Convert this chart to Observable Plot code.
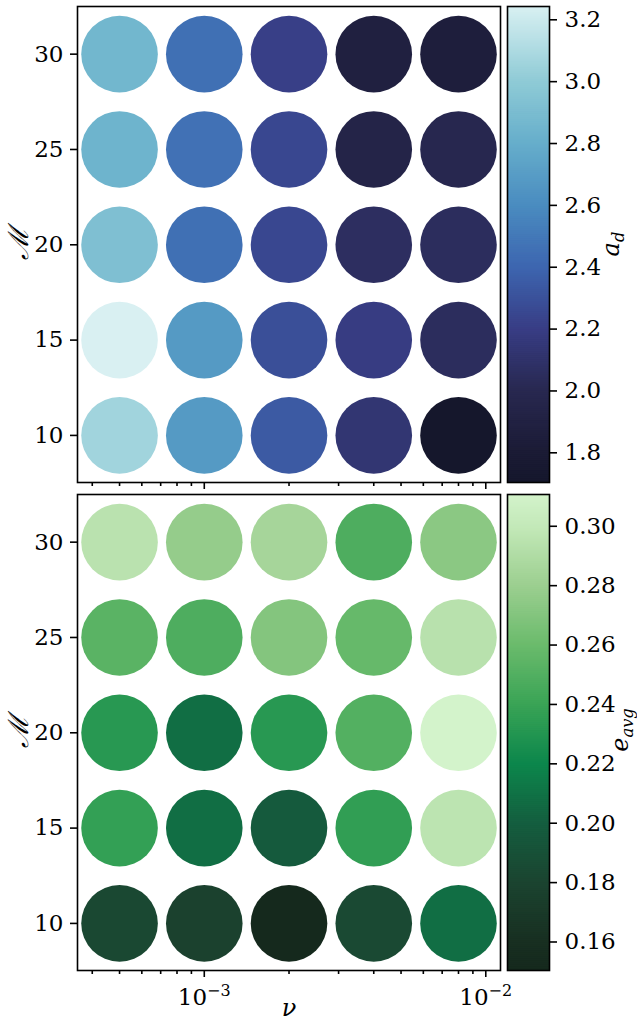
<!DOCTYPE html>
<html><head><meta charset="utf-8">
<script src="https://cdn.jsdelivr.net/npm/d3@7"></script>
<script src="https://cdn.jsdelivr.net/npm/@observablehq/plot@0.6"></script>
<style>
body{margin:0;background:#fff;}
#wrap{position:relative;width:637px;height:1021px;overflow:hidden;background:#fff;font-family:"DejaVu Serif",serif;color:#000;}
#wrap svg{position:absolute;overflow:visible;}
#wrap svg text{font-family:"DejaVu Serif",serif !important;}
.lab{position:absolute;white-space:nowrap;line-height:1;font-style:italic;font-size:24px;font-family:"DejaVu Serif",serif;}
.lab sub{font-size:0.68em;vertical-align:-0.28em;line-height:0;}
</style></head><body><div id="wrap"></div>
<script>
// ---- data ----
const nuValues = [5e-4, 1e-3, 2e-3, 4e-3, 8e-3];
const machValues = [10, 15, 20, 25, 30];

// a_d per Mach row (columns follow nuValues)
const aD_M10 = [3.06, 2.68, 2.34, 2.13, 1.704];
const aD_M15 = [3.243, 2.68, 2.29, 2.19, 2.05];
const aD_M20 = [2.92, 2.45, 2.25, 2.06, 2.05];
const aD_M25 = [2.84, 2.46, 2.25, 1.94, 1.99];
const aD_M30 = [2.86, 2.45, 2.21, 1.88, 1.85];

// e_avg per Mach row
const eAvg_M10 = [0.183, 0.177, 0.1504, 0.184, 0.208];
const eAvg_M15 = [0.237, 0.208, 0.197, 0.236, 0.296];
const eAvg_M20 = [0.232, 0.208, 0.232, 0.250, 0.3107];
const eAvg_M25 = [0.253, 0.248, 0.270, 0.258, 0.294];
const eAvg_M30 = [0.295, 0.277, 0.285, 0.248, 0.273];

// colormaps (sampled stops)
const aStops  = [1.704, 1.8, 2.0, 2.2, 2.4, 2.6, 2.8, 3.0, 3.243];
const aColors = ["#15172c","#1b1b35","#282850","#383d85","#3d66b0","#4a8cc0","#66aecb","#8fcbd6","#d9f0f2"];
const eStops  = [0.1504, 0.16, 0.18, 0.20, 0.22, 0.24, 0.26, 0.28, 0.30, 0.3107];
const eColors = ["#15291d","#182f21","#1b4430","#145e3f","#0c874c","#3aa456","#6bbb6c","#9ccf90","#c4e9b9","#d3f3cb"];

// ticks
const yTicks = [10, 15, 20, 25, 30];
const xMajor = [1e-3, 1e-2];
const xMinor = [4e-4, 5e-4, 6e-4, 7e-4, 8e-4, 9e-4, 2e-3, 3e-3, 4e-3, 5e-3, 6e-3, 7e-3, 8e-3, 9e-3];
const aTicks = [1.8, 2.0, 2.2, 2.4, 2.6, 2.8, 3.0, 3.2];
const eTicks = [0.16, 0.18, 0.20, 0.22, 0.24, 0.26, 0.28, 0.30];

// ---- build ----
const FONT = '"DejaVu Serif",serif';
const wrap = document.getElementById("wrap");
const rowsA = [aD_M10, aD_M15, aD_M20, aD_M25, aD_M30];
const rowsE = [eAvg_M10, eAvg_M15, eAvg_M20, eAvg_M25, eAvg_M30];
function table(rows) {
  const out = [];
  rows.forEach((r, i) => r.forEach((v, j) => out.push({nu: nuValues[j], M: machValues[i], v})));
  return out;
}
const dataA = table(rowsA), dataE = table(rowsE);
const colorA = {type: "linear", domain: aStops, range: aColors};
const colorE = {type: "linear", domain: eStops, range: eColors};
const xDomain = [3.545e-4, 1.128e-2];
const yDomain = [7.53, 32.5];
const SW = 1.6, FS = 23;

function panel(data, color, top, height, mb, labels) {
  const marks = [
    Plot.dot(data, {x: "nu", y: "M", r: 38.3, fill: "v"}),
    Plot.frame({stroke: "black", strokeWidth: SW}),
    Plot.axisY({ticks: yTicks, tickSize: 7, tickPadding: 7, fontSize: FS, label: null, strokeWidth: SW}),
    Plot.axisX({ticks: xMinor, tickSize: 4, tickFormat: () => "", label: null, strokeWidth: SW}),
    Plot.axisX({ticks: xMajor, tickSize: 7, tickPadding: 11, fontSize: FS, label: null, strokeWidth: SW,
      tickFormat: labels ? (d => "10^" + Math.round(Math.log10(d))) : (() => "")})
  ];
  return Plot.plot({
    width: 637, height, marginLeft: 77, marginRight: 137, marginTop: 6, marginBottom: mb,
    x: {type: "log", domain: xDomain},
    y: {domain: yDomain},
    color,
    style: {position: "absolute", left: "0px", top: top + "px", fontFamily: FONT, fontSize: FS + "px", background: "transparent", color: "black"},
    marks
  });
}

function colorbar(data, color, ticks, fmt, top, height, mb) {
  const [lo, hi] = d3.extent(data, d => d.v);
  const n = 240;
  const slices = d3.range(n).map(i => ({
    y1: lo + (hi - lo) * i / n,
    y2: Math.min(hi, lo + (hi - lo) * (i + 1.6) / n),
    v: lo + (hi - lo) * (i + 0.5) / n
  }));
  return Plot.plot({
    width: 137, height, marginLeft: 7, marginRight: 88, marginTop: 6, marginBottom: mb,
    x: {domain: [0, 1], axis: null},
    y: {domain: [lo, hi], axis: null},
    color,
    style: {position: "absolute", left: "500px", top: top + "px", fontFamily: FONT, fontSize: FS + "px", background: "transparent", color: "black"},
    marks: [
      Plot.rect(slices, {x1: 0, x2: 1, y1: "y1", y2: "y2", fill: "v"}),
      Plot.frame({stroke: "black", strokeWidth: SW}),
      Plot.axisY({anchor: "right", ticks, tickSize: 7, tickPadding: 8, tickFormat: d3.format(fmt), fontSize: FS, label: null, strokeWidth: SW})
    ]
  });
}

wrap.appendChild(panel(dataA, colorA, 0, 495, 13, false));
wrap.appendChild(colorbar(dataA, colorA, aTicks, ".1f", 0, 495, 13));
const bottom = panel(dataE, colorE, 488, 533, 51, true);
wrap.appendChild(bottom);
wrap.appendChild(colorbar(dataE, colorE, eTicks, ".2f", 488, 533, 51));

// superscript exponents on the log-axis labels
bottom.querySelectorAll("text").forEach(t => {
  const m = /^10\^(-?\d+)$/.exec(t.textContent);
  if (!m) return;
  t.textContent = "";
  const ns = "http://www.w3.org/2000/svg";
  const a = document.createElementNS(ns, "tspan"); a.textContent = "10";
  const b = document.createElementNS(ns, "tspan"); b.textContent = m[1].replace("-", "\u2212");
  b.setAttribute("font-size", "16px"); b.setAttribute("dy", "-9");
  t.appendChild(a); t.appendChild(b);
});

// labels
function label(html, x, y, rotate, extra) {
  const d = document.createElement("div");
  d.className = "lab";
  d.innerHTML = html;
  d.style.left = x + "px"; d.style.top = y + "px";
  d.style.transform = "translate(-50%,-50%)" + (rotate ? " rotate(-90deg)" : "");
  if (extra) Object.assign(d.style, extra);
  wrap.appendChild(d);
}
label("\u2133", 19, 244, true, {fontSize: "28px"});
label("\u2133", 19, 732, true, {fontSize: "28px"});
label("a<sub>d</sub>", 611, 244, true);
label("e<sub>avg</sub>", 620, 730, true);
label("\u03bd", 289, 1008, false);
</script></body></html>
